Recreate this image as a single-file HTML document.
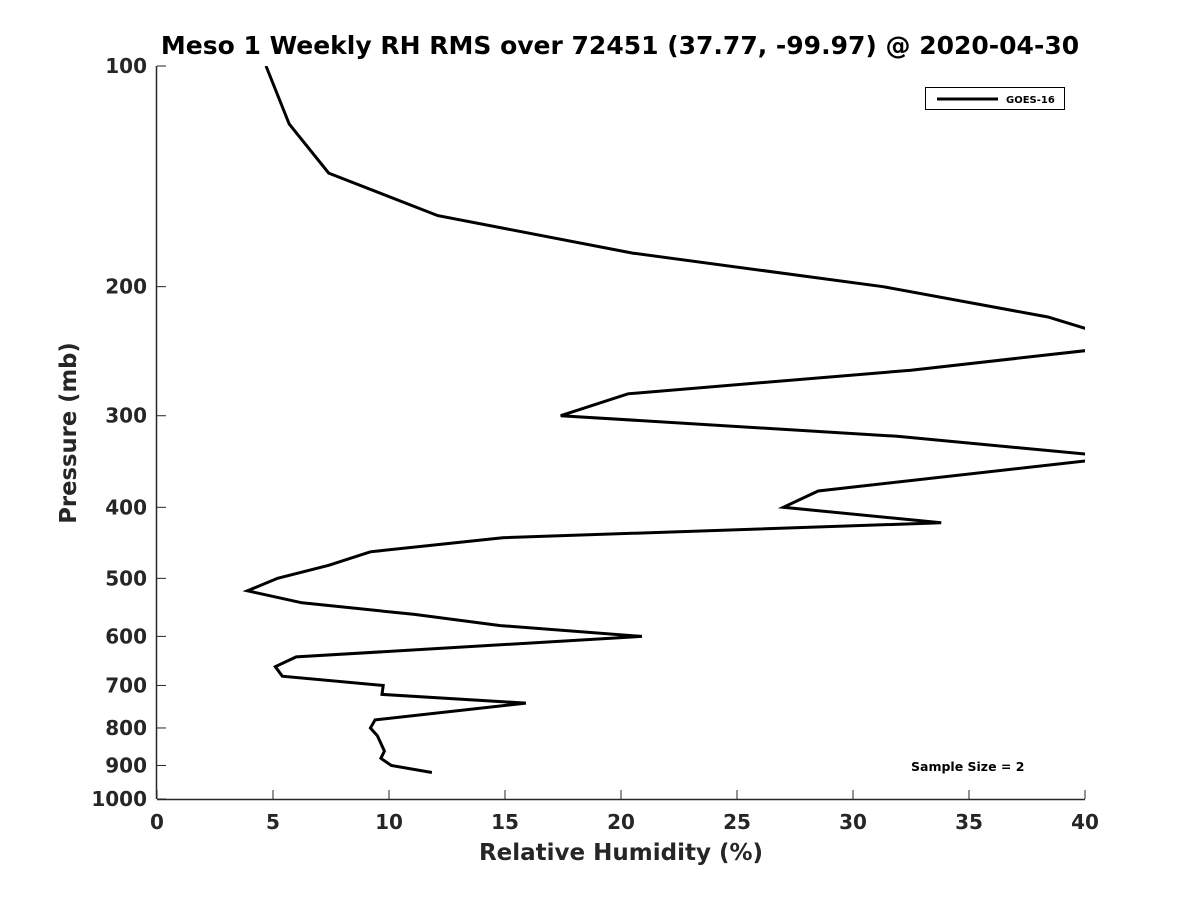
<!DOCTYPE html>
<html><head><meta charset="utf-8"><style>
body{margin:0;background:#fff}
svg text{font-family:"DejaVu Sans","Liberation Sans",sans-serif;font-weight:bold;fill:#262626}
</style></head><body>
<svg id="chart" width="1200" height="900">
<defs><clipPath id="clip"><rect x="157" y="66" width="928" height="733"/></clipPath></defs>
<text x="620" y="54" text-anchor="middle" font-size="25" style="fill:#000">Meso 1 Weekly RH RMS over 72451 (37.77, -99.97) @ 2020-04-30</text>
<g id="axes"></g>
<g id="series" clip-path="url(#clip)"></g>
<text x="621" y="860" text-anchor="middle" font-size="23">Relative Humidity (%)</text>
<text transform="translate(76,433) rotate(-90)" text-anchor="middle" font-size="22.7">Pressure (mb)</text>
<g>
<rect x="925.5" y="87.5" width="139" height="22" fill="#fff" stroke="#000" stroke-width="1"/>
<line x1="937" y1="99" x2="998" y2="99" stroke="#000" stroke-width="3"/>
<text x="1006" y="103" font-size="10" style="fill:#000">GOES-16</text>
</g>
<text x="911" y="771" font-size="12.5" style="fill:#000">Sample Size = 2</text>
</svg>
<script>
const pressures=[100,120,140,160,180,200,220,240,260,280,300,320,340,345,380,400,420,440,460,480,500,520,540,560,580,600,640,660,680,700,720,740,780,800,820,860,880,900,920];
const rhValues=[4.7,5.7,7.4,12.1,20.5,31.3,38.4,42.3,32.5,20.3,17.4,31.9,40.75,40.3,28.5,27.0,33.8,14.9,9.2,7.4,5.2,3.9,6.25,11.1,14.8,20.9,6.0,5.1,5.4,9.75,9.7,15.9,9.4,9.2,9.5,9.8,9.65,10.1,11.85];
const xTicks=[0,5,10,15,20,25,30,35,40];
const yTicks=[100,200,300,400,500,600,700,800,900,1000];
const NS="http://www.w3.org/2000/svg";
const L=157,R=1085,T=66,B=799;
function xs(v){return L+(v-0)/(40-0)*(R-L);}
function ys(p){return T+(Math.log10(p)-2)*(B-T);}
const axes=document.getElementById('axes');
function mk(tag,attrs,parent){const e=document.createElementNS(NS,tag);for(const k in attrs)e.setAttribute(k,attrs[k]);parent.appendChild(e);return e;}
const xa=mk('line',{x1:L,y1:B+0.5,x2:R,y2:B+0.5,stroke:'#262626','stroke-width':1.5},axes);


const ya=mk('line',{x1:L-0.5,y1:T,x2:L-0.5,y2:B,stroke:'#262626','stroke-width':1.5},axes);


xTicks.forEach(v=>{
 const x=xs(v);
 const t=mk('line',{x1:x,y1:B,x2:x,y2:B-9,stroke:'#262626','stroke-width':1},axes);
 
 
 const lb=mk('text',{x:x,y:B+30,'text-anchor':'middle','font-size':20},axes);
 lb.textContent=v;
 
 
});
yTicks.forEach(p=>{
 const y=ys(p);
 const t=mk('line',{x1:L,y1:y,x2:L+9,y2:y,stroke:'#262626','stroke-width':1},axes);
 
 
 const lb=mk('text',{x:L-10,y:y+7,'text-anchor':'end','font-size':20},axes);
 lb.textContent=p;
 
 
});
const pts=pressures.map((p,i)=>xs(rhValues[i]).toFixed(1)+','+ys(p).toFixed(1)).join(' ');
const line=mk('polyline',{points:pts,fill:'none',stroke:'#000','stroke-width':3,'stroke-linejoin':'miter'},document.getElementById('series'));


</script>
</body></html>
